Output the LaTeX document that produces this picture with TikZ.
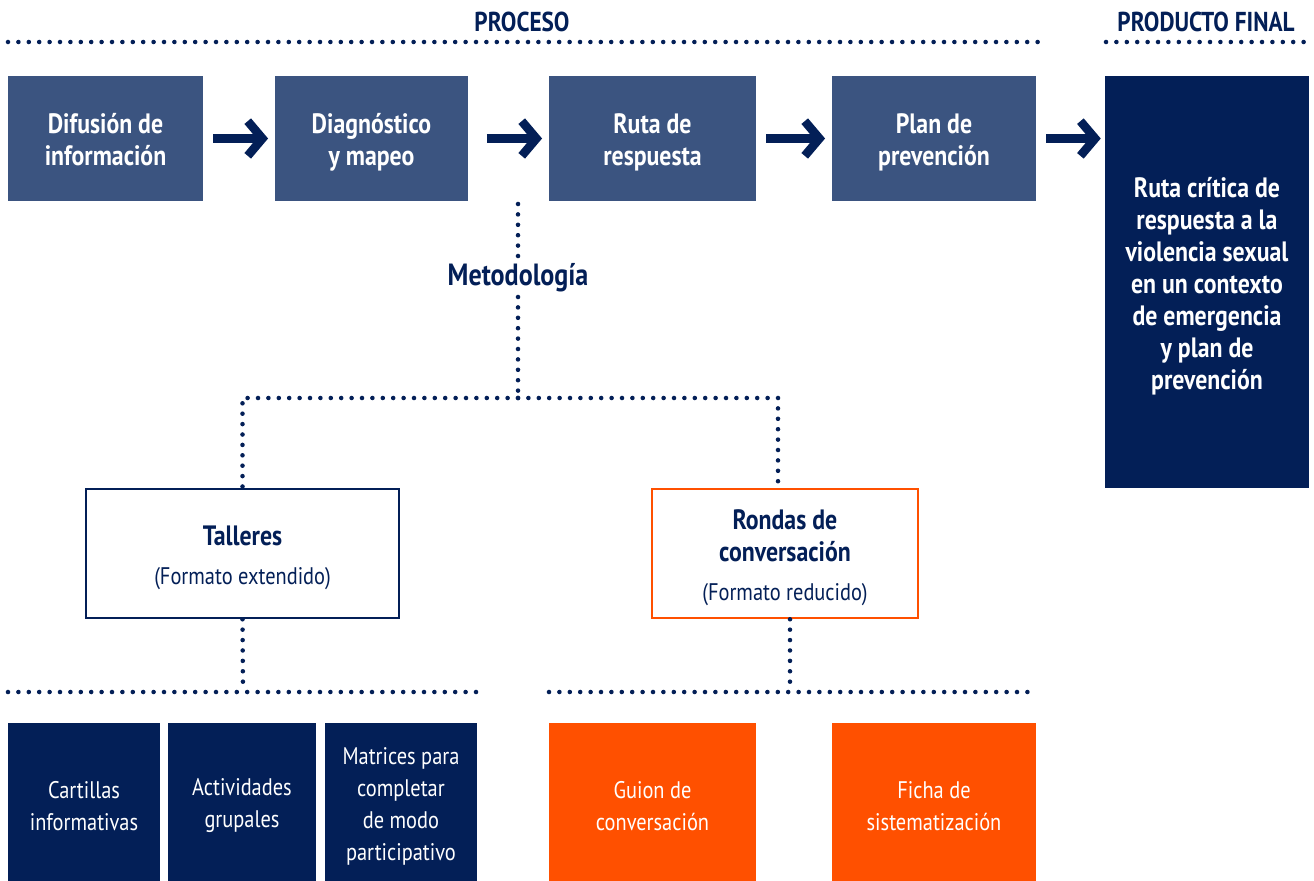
\documentclass[tikz,border=0pt]{standalone}
\usepackage{fontspec}
\setmainfont{PT Sans}[FakeStretch=0.85]
\usetikzlibrary{arrows.meta}

\definecolor{azulmedio}{RGB}{59,84,128}
\definecolor{azuloscuro}{RGB}{3,31,87}
\definecolor{naranja}{RGB}{255,80,0}

\newcommand{\negrita}{\fontsize{21}{24}\selectfont\bfseries}
\newcommand{\fina}{\fontsize{18}{24}\selectfont\mdseries}
\newcommand{\titulo}{\fontsize{20.5}{24}\selectfont\bfseries}
% struts so that every box sets its lines the same way
\newcommand{\arranque}{\rule{0pt}{23pt}}
\newcommand{\remate}{\rule[-6pt]{0pt}{6pt}}

\tikzset{
  paso/.style={fill=azulmedio, text=white, font=\negrita, align=center, inner sep=0pt, minimum height=93.75pt},
  producto/.style={fill=azuloscuro, text=white, font=\negrita, align=center, inner sep=0pt},
  formato/.style={fill=white, line width=1.9pt, text=azuloscuro, font=\negrita, align=center, inner sep=0pt, minimum height=96.75pt},
  recurso/.style={text=white, font=\fina, align=center, inner sep=0pt, minimum height=124.5pt},
  flecha/.style={draw=azuloscuro, line width=6.5pt, shorten <=7.5pt, shorten >=5pt,
    -{Straight Barb[length=11pt,width=26pt]}},
  puntos/.style={draw=azuloscuro, line width=3.4pt, line cap=round, dash pattern=on 0pt off 7.8pt},
}

\begin{document}
\begin{tikzpicture}[x=0.75pt,y=0.75pt,yscale=-1,xscale=1]
\useasboundingbox (0,0) rectangle (1314,881);

% Headers
\node (proceso) at (522,22) [text=azuloscuro, font=\titulo] {PROCESO};
\node (final) at (1206,22) [text=azuloscuro, font=\titulo] {PRODUCTO FINAL};
\draw [puntos] (8,42) -- (1038,42);
\draw [puntos] (1106,42) -- (1310,42);

%Shape: Rectangle (process steps)
\node (difusion) at (105.5,138.5) [paso, minimum width=146.25pt] {\arranque Difusión de\\información\remate};
\node (diagnostico) at (371.5,138.5) [paso, minimum width=144.75pt] {\arranque Diagnóstico\\y mapeo\remate};
\node (ruta) at (652.5,138.5) [paso, minimum width=155.25pt] {\arranque Ruta de\\respuesta\remate};
\node (plan) at (934,138.5) [paso, minimum width=153pt] {\arranque Plan de\\prevención\remate};
\node (rutacritica) at (1207,282) [producto, minimum width=153pt, minimum height=309pt]
  {\arranque Ruta crítica de\\respuesta a la\\violencia sexual\\en un contexto\\de emergencia\\y plan de\\prevención\remate};

%Straight Lines
\draw [flecha] (difusion) -- (diagnostico);
\draw [flecha, shorten <=14pt] (diagnostico) -- (ruta);
\draw [flecha] (ruta) -- (plan);
\draw [flecha, shorten >=3pt] (plan) -- (rutacritica.west |- plan);

% Metodologia
\coordinate (bajoflecha) at (518,204);
\node (metodo) at (518,278) [text=azuloscuro, font=\fontsize{23}{26}\selectfont\bfseries] {Metodología};
\coordinate (nudo) at (518,398);
\draw [puntos] (bajoflecha) -- (metodo.north);
\draw [puntos] (metodo.south) -- (nudo);

%Shape: Rectangle (formats)
\node (talleres) at (242.5,553.5) [formato, draw=azuloscuro, minimum width=234.75pt]
  {\arranque Talleres\\[5.5pt]{\fina (Formato extendido)}\remate};
\node (rondas) at (785,553.5) [formato, draw=naranja, minimum width=199.5pt]
  {\arranque Rondas de\\conversación\\[5.5pt]{\fina (Formato reducido)}\remate};
\draw [puntos] (nudo) -| (talleres.north);
\draw [puntos] (nudo) -| ([xshift=-5.25pt]rondas.north);

% Bars over the resources
\coordinate (barraT) at (243,692);
\coordinate (barraR) at (790,692);
\draw [puntos] (8,692) -- (477,692);
\draw [puntos] (549,692) -- (1036,692);
\draw [puntos] (talleres.south) -- (barraT);
\draw [puntos] ([xshift=3.75pt]rondas.south) -- (barraR);

%Shape: Rectangle (resources)
\node (cartillas) at (84,806) [recurso, fill=azuloscuro, minimum width=114pt] {Cartillas\\informativas};
\node (actividades) at (242,806) [recurso, fill=azuloscuro, minimum width=111pt] {Actividades\\grupales};
\node (matrices) at (401,806) [recurso, fill=azuloscuro, minimum width=114pt] {Matrices para\\completar\\de modo\\participativo};
\node (guion) at (652.5,806) [recurso, fill=naranja, minimum width=155.25pt] {Guion de\\conversación};
\node (ficha) at (934,806) [recurso, fill=naranja, minimum width=153pt] {Ficha de\\sistematización};

\end{tikzpicture}
\end{document}
